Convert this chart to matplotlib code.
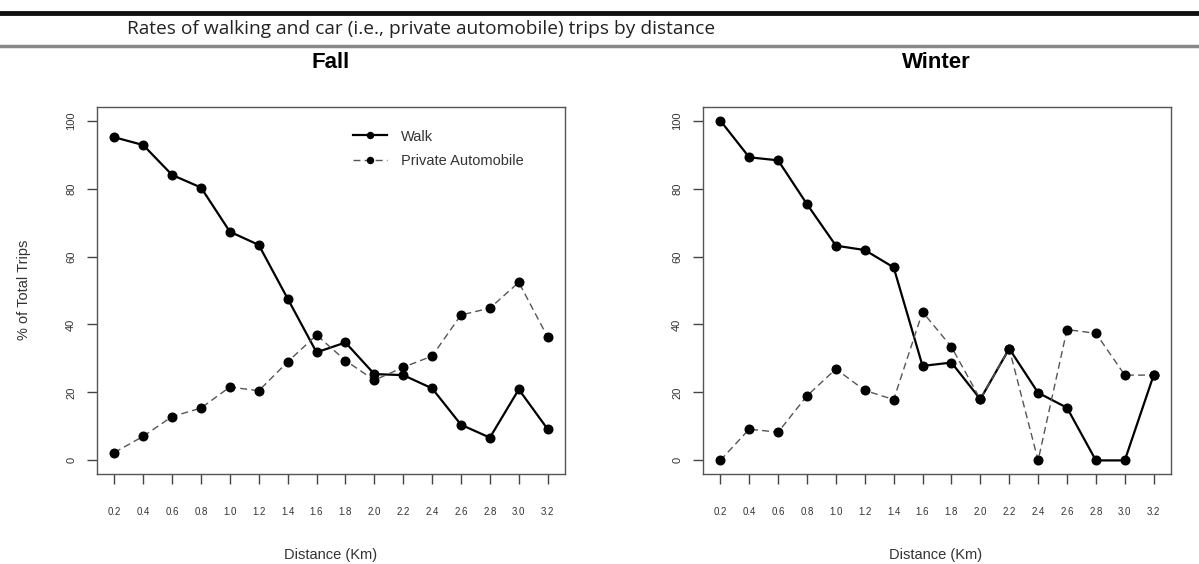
import numpy as np
import matplotlib
matplotlib.use("Agg")
import matplotlib.pyplot as plt
from matplotlib.lines import Line2D

plt.rcParams['font.family'] = ['Liberation Sans', 'DejaVu Sans']

distance = [0.2, 0.4, 0.6, 0.8, 1.0, 1.2, 1.4, 1.6, 1.8, 2.0, 2.2, 2.4, 2.6, 2.8, 3.0, 3.2]
tick_labels = ["0.2", "0.4", "0.6", "0.8", "1.0", "1.2", "1.4", "1.6",
               "1.8", "2.0", "2.2", "2.4", "2.6", "2.8", "3.0", "3.2"]

fall_walk = [95.1, 92.8, 84.0, 80.3, 67.3, 63.4, 47.6, 31.8, 34.7, 25.4, 25.1, 21.2, 10.5, 6.7, 20.9, 9.2]
fall_car = [2.3, 7.1, 12.9, 15.4, 21.6, 20.5, 29.0, 36.9, 29.4, 23.6, 27.4, 30.7, 42.8, 44.8, 52.4, 36.3]

winter_walk = [100, 89.2, 88.3, 75.4, 63.2, 61.9, 56.8, 27.8, 28.8, 18.0, 32.9, 19.9, 15.5, 0, 0, 25.1]
winter_car = [0, 9.2, 8.3, 19.0, 26.9, 20.6, 17.9, 43.7, 33.4, 18.0, 32.9, 0, 38.5, 37.4, 25.1, 25.1]

W, H = 1199, 564
fig = plt.figure(figsize=(W / 100, H / 100), dpi=100)


def px_axes(left, top, right, bottom):
    return fig.add_axes([left / W, 1 - bottom / H, (right - left) / W, (bottom - top) / H])


def draw_panel(ax, walk, car, title, cx):
    ax.plot(distance, walk, color='black', lw=1.6, marker='o', ms=6.2, label='Walk')
    ax.plot(distance, car, color='#555555', lw=1.0, ls=(0, (5, 3)), marker='o', ms=6.2,
            mfc='black', mec='black', label='Private Automobile')
    ax.set_xlim(0.08, 3.32)
    ax.set_ylim(-4, 104)
    ax.set_xticks(distance)
    ax.set_xticklabels(tick_labels, fontsize=7, color='#333333')
    ax.set_yticks([0, 20, 40, 60, 80, 100])
    ax.set_yticklabels(["0", "20", "40", "60", "80", "100"], fontsize=8, color='#333333',
                       rotation=90, va='center')
    ax.tick_params(axis='x', length=7, width=1, color='#444444', pad=17)
    ax.tick_params(axis='y', length=7, width=1, color='#444444', pad=8)
    for s in ax.spines.values():
        s.set_color('#555555')
        s.set_linewidth(1.0)
    fig.text(cx / W, 1 - 63 / H, title, fontsize=16, fontweight='bold', ha='center', va='center')
    fig.text(cx / W, 1 - 555 / H, "Distance (Km)", fontsize=10.5, color='#333333',
             ha='center', va='center')


ax1 = px_axes(97, 107, 565, 474)
draw_panel(ax1, fall_walk, fall_car, "Fall", 331)
ax2 = px_axes(703, 107, 1171, 474)
draw_panel(ax2, winter_walk, winter_car, "Winter", 936)

fig.text(24 / W, 1 - 290 / H, "% of Total Trips", fontsize=10.5, color='#333333',
         rotation=90, ha='center', va='center')

leg = ax1.legend(loc='center left', bbox_to_anchor=(353 / W, 1 - 149 / H),
                 bbox_transform=fig.transFigure, frameon=False, fontsize=10.5,
                 handlelength=2.3, handletextpad=1.0, labelspacing=0.75,
                 borderpad=0, borderaxespad=0, markerscale=0.7)
for t in leg.get_texts():
    t.set_color('#333333')

# header bars and caption
fig.add_artist(Line2D([0, 1], [1 - 13 / H, 1 - 13 / H], transform=fig.transFigure,
                      color='#111111', lw=3.5))
fig.add_artist(Line2D([0, 1], [1 - 46 / H, 1 - 46 / H], transform=fig.transFigure,
                      color='#888888', lw=2.5))
fig.text(127 / W, 1 - 29 / H, "Rates of walking and car (i.e., private automobile) trips by distance",
         fontsize=13.8, family=['Open Sans', 'DejaVu Sans'], color='#222222', ha='left', va='center')

fig.savefig("out.png", dpi=100)
